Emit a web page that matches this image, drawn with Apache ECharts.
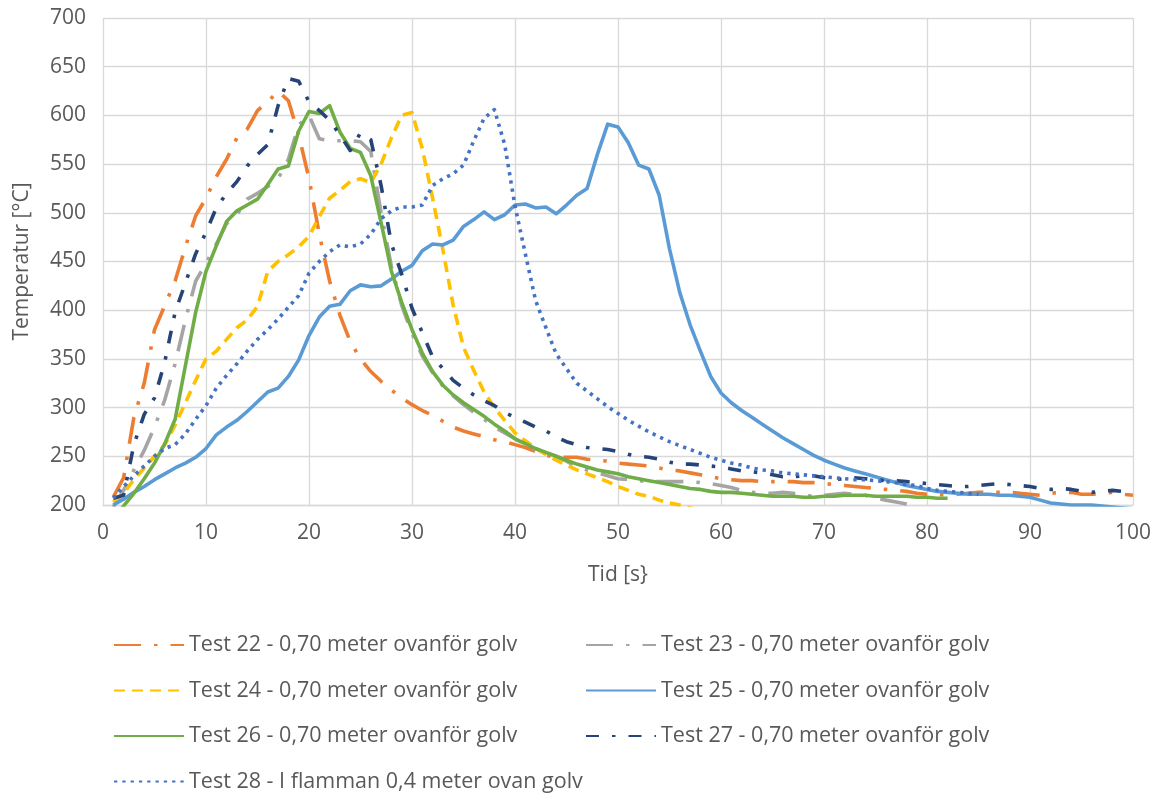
<!DOCTYPE html>
<html>
<head>
<meta charset="utf-8">
<script src="https://cdn.jsdelivr.net/npm/echarts@6/dist/echarts.min.js"></script>
<style>
  html, body { margin: 0; padding: 0; background: #ffffff; }
  #chart { width: 1161px; height: 796px; }
</style>
</head>
<body>
<div id="chart"></div>
<script>
// Temperature readings, one value per second starting at t = 1 s
const test22 = [208,228,290,325,380,405,430,465,497,515,
  537,555,577,586,605,614,625,615,580,535,
  478,430,395,368,350,337,327,318,310,303,
  297,292,286,280,276,273,270,267,265,262,
  259,255,251,249,249,249,247,246,245,243,
  242,241,240,238,236,235,233,231,229,227,
  226,225,225,224,224,224,224,223,223,222,
  221,220,219,218,217,216,215,214,212,211,
  211,210,211,212,213,213,213,213,212,211,
  210,212,213,213,211,211,212,213,211,210];

const test23 = [198,215,236,256,280,308,345,390,430,448,
  468,489,498,514,520,527,535,555,590,600,
  576,574,574,574,573,563,500,445,405,376,
  353,336,322,312,303,295,288,280,274,268,
  262,257,254,250,245,239,236,233,230,227,
  226,225,224,224,224,224,224,223,222,220,
  218,215,213,212,212,213,212,210,209,210,
  211,212,211,210,207,205,203,201,199];

const test24 = [203,212,226,238,250,262,282,305,328,350,
  358,370,382,390,404,440,450,457,465,476,
  496,515,523,532,535,531,550,577,600,603,
  566,515,462,405,362,338,316,300,287,274,
  266,258,252,246,241,236,232,228,224,219,
  215,211,209,205,202,200,197,195];

const test25 = [200,206,213,219,226,232,238,243,249,258,
  272,280,287,296,306,316,320,332,349,374,
  393,404,406,420,426,424,425,432,440,446,
  461,468,467,472,486,493,501,493,498,508,
  509,505,506,499,508,518,525,560,591,588,
  572,549,545,518,463,418,385,358,332,315,
  305,297,290,283,276,269,263,257,251,246,
  242,238,235,232,229,226,223,220,218,216,
  214,213,212,211,211,211,210,210,209,208,
  205,202,201,200,200,200,199,198,197,196];

const test26 = [185,199,212,227,243,263,288,343,398,440,
  466,491,502,508,514,529,545,548,584,604,
  602,610,583,566,562,538,490,440,408,380,
  356,337,323,313,305,298,291,283,276,268,
  263,258,254,250,246,242,239,236,234,232,
  229,227,225,223,221,219,217,216,214,213,
  213,212,211,210,209,209,209,208,208,209,
  209,210,210,210,209,209,209,209,208,208,
  207,207];

const test27 = [207,210,262,293,310,347,398,428,458,480,
  505,520,532,548,560,570,610,638,635,614,
  605,595,580,564,582,575,528,468,437,402,
  377,352,340,328,320,313,307,302,295,290,
  285,280,276,270,265,262,259,258,257,255,
  252,250,249,247,244,242,242,241,240,239,
  237,235,234,233,231,229,229,230,230,228,
  226,227,228,227,226,225,225,224,223,222,
  221,220,219,219,220,221,222,221,220,219,
  217,216,217,216,214,213,214,215,214,212];

const test28 = [207,219,230,240,250,258,262,273,288,302,
  320,333,345,358,370,380,391,403,415,438,
  450,460,467,465,468,478,494,502,506,506,
  508,528,535,540,549,574,597,606,570,507,
  458,410,382,355,340,325,317,309,301,294,
  287,281,275,270,265,261,257,253,249,246,
  243,241,238,236,235,233,232,231,230,229,
  228,227,226,226,225,224,223,221,220,217,
  215,214,213,212,211];

const seriesNames = [
  'Test 22 - 0,70 meter ovanför golv',
  'Test 23 - 0,70 meter ovanför golv',
  'Test 24 - 0,70 meter ovanför golv',
  'Test 25 - 0,70 meter ovanför golv',
  'Test 26 - 0,70 meter ovanför golv',
  'Test 27 - 0,70 meter ovanför golv',
  'Test 28 - I flamman 0,4 meter ovan golv'
];
const seriesValues = [test22, test23, test24, test25, test26, test27, test28];

const xTicks = { min: 0, max: 100, step: 10 };
const yTicks = { min: 200, max: 700, step: 50 };

// line look per series: colour and dash pattern
const longDashDot = [27, 13, 3.5, 13];
const dashDot = [13, 13, 3.5, 13];
const styles = [
  { color: '#ED7D31', type: longDashDot },
  { color: '#A5A5A5', type: longDashDot },
  { color: '#FFC000', type: [11, 7] },
  { color: '#5B9BD5', type: 'solid' },
  { color: '#70AD47', type: 'solid' },
  { color: '#264478', type: dashDot },
  { color: '#4472C4', type: [3.3, 5] }
];

const FONT = '"Open Sans", "Noto Sans", sans-serif';
const TEXT = '#595959';
const GRID = '#D9D9D9';
const LINE_W = 3.6;

const series = seriesValues.map((vals, i) => ({
  name: seriesNames[i],
  type: 'line',
  symbol: 'none',
  showSymbol: false,
  clip: true,
  data: vals.map((v, k) => [k + 1, v]),
  lineStyle: {
    color: styles[i].color,
    width: LINE_W,
    type: styles[i].type,
    cap: 'butt',
    join: 'round'
  },
  itemStyle: { color: styles[i].color },
  emphasis: { disabled: true }
}));

const legendBase = {
  orient: 'vertical',
  padding: 0,
  height: 200,
  itemWidth: 70,
  itemHeight: 14,
  itemGap: 21.5,
  itemStyle: { opacity: 0 },
  textStyle: { fontFamily: FONT, fontSize: 21.5, color: TEXT, lineHeight: 24 },
  selectedMode: false
};

const chart = echarts.init(document.getElementById('chart'), null, { renderer: 'canvas' });
chart.setOption({
  animation: false,
  backgroundColor: '#ffffff',
  grid: { left: 103, right: 28, top: 18, bottom: 291, containLabel: false },
  xAxis: {
    type: 'value',
    min: xTicks.min, max: xTicks.max, interval: xTicks.step,
    name: 'Tid [s}',
    nameLocation: 'middle',
    nameGap: 60,
    nameTextStyle: { fontFamily: FONT, fontSize: 21, color: TEXT },
    axisLine: { show: true, lineStyle: { color: GRID, width: 1.3 } },
    axisTick: { show: false },
    axisLabel: { fontFamily: FONT, fontSize: 21, color: TEXT, margin: 18 },
    splitLine: { show: true, lineStyle: { color: GRID, width: 1.3 } }
  },
  yAxis: {
    type: 'value',
    min: yTicks.min, max: yTicks.max, interval: yTicks.step,
    name: 'Temperatur [°C]',
    nameLocation: 'middle',
    nameGap: 70,
    nameRotate: 90,
    nameTextStyle: { fontFamily: FONT, fontSize: 21, color: TEXT },
    axisLine: { show: false },
    axisTick: { show: false },
    axisLabel: { fontFamily: FONT, fontSize: 21, color: TEXT, margin: 17 },
    splitLine: { show: true, lineStyle: { color: GRID, width: 1.3 } }
  },
  legend: [
    Object.assign({}, legendBase, {
      left: 113, top: 633,
      data: [seriesNames[0], seriesNames[2], seriesNames[4], seriesNames[6]]
    }),
    Object.assign({}, legendBase, {
      left: 585, top: 633,
      data: [seriesNames[1], seriesNames[3], seriesNames[5]]
    })
  ],
  series: series
});
</script>
</body>
</html>
